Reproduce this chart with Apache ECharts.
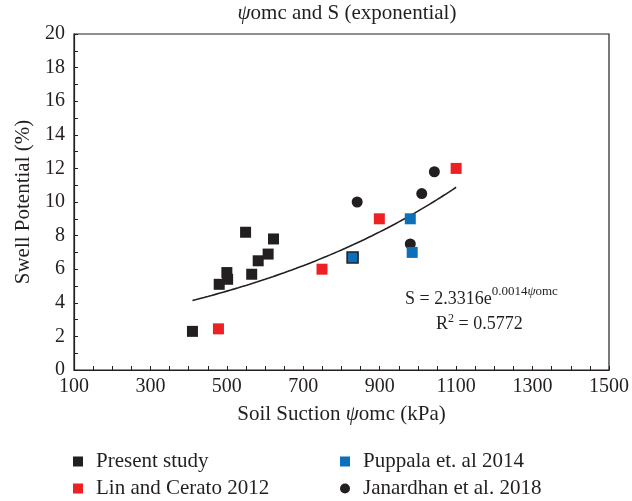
<!DOCTYPE html>
<html>
<head>
<meta charset="utf-8">
<script src="https://cdn.jsdelivr.net/npm/echarts@6/dist/echarts.min.js"></script>
<style>
  html, body { margin: 0; padding: 0; background: #fff; }
  #chart { width: 632px; height: 501px; }
</style>
</head>
<body>
<div id="chart"></div>
<script>
// Soil suction (kPa) vs swell potential (%) for each source
const presentStudy = [[410, 2.3], [480, 5.1], [502, 5.4], [500, 5.8], [549, 8.2], [565, 5.7], [582, 6.5], [608, 6.9], [622, 7.8]];
const linCerato = [[478, 2.45], [749, 6.0], [899, 9.0], [1100, 12.0]];
const puppala = [[829, 6.7], [980, 9.0], [985, 7.0]];
const janardhan = [[841, 10.0], [980, 7.5], [1010, 10.5], [1043, 11.8]];

// Exponential fit S = a * e^(b * psi)
const fitA = 2.3316;
const fitB = 0.0014;
const fitR2 = 0.5772;
const fitRange = [410, 1100];

const xTicks = { min: 100, max: 1500, step: 200 };
const yTicks = { min: 0, max: 20, step: 2 };

const seriesNames = ['Present study', 'Lin and Cerato 2012', 'Puppala et. al 2014', 'Janardhan et al. 2018'];

const INK = '#231f20';
const RED = '#ed2024';
const BLUE = '#0b6fba';
const FONT = '"Liberation Serif", "DejaVu Serif", serif';

const trend = [];
for (let x = fitRange[0]; x <= fitRange[1]; x += 10) {
  trend.push([x, fitA * Math.exp(fitB * x)]);
}

const chart = echarts.init(document.getElementById('chart'), null, { renderer: 'canvas' });

const axisCommon = {
  axisLine: { show: true, onZero: false, lineStyle: { color: INK, width: 1.2 } },
  axisTick: { show: true, inside: true, length: 4, lineStyle: { color: INK, width: 1 } },
  minorTick: { show: true, length: 4, lineStyle: { color: INK, width: 1 } },
  splitLine: { show: false },
  axisLabel: { color: INK, fontFamily: FONT, fontSize: 20, formatter: v => String(v) }
};

const legendText = { fontFamily: FONT, fontSize: 21, color: INK, padding: [0, 0, 0, 8], lineHeight: 21 };

chart.setOption({
  backgroundColor: '#fff',
  animation: false,
  textStyle: { fontFamily: FONT, color: INK },
  title: {
    text: '{i|ψ}omc and S (exponential)',
    left: 342, top: -2, textAlign: 'center',
    textStyle: {
      fontFamily: FONT, fontSize: 21, fontWeight: 'normal', color: INK,
      rich: { i: { fontFamily: FONT, fontSize: 21, fontStyle: 'italic', color: INK } }
    }
  },
  grid: {
    left: 74, right: 20, top: 34, bottom: 131,
    show: true, borderColor: INK, borderWidth: 1.2, backgroundColor: 'transparent'
  },
  legend: [
    {
      data: [seriesNames[0], seriesNames[1]],
      orient: 'vertical', left: 73, top: 451, itemGap: 6, padding: 0,
      itemWidth: 10, itemHeight: 10,
      textStyle: legendText
    },
    {
      data: [seriesNames[2], seriesNames[3]],
      orient: 'vertical', left: 340, top: 451, itemGap: 6, padding: 0,
      itemWidth: 10, itemHeight: 10,
      textStyle: legendText
    }
  ],
  xAxis: Object.assign({}, axisCommon, {
    type: 'value', min: xTicks.min, max: xTicks.max, interval: xTicks.step,
    minorTick: Object.assign({}, axisCommon.minorTick, { splitNumber: 4 }),
    axisLabel: Object.assign({}, axisCommon.axisLabel, { margin: 7 }),
    name: '{t|Soil Suction }{i|ψ}{t|omc (kPa)}',
    nameLocation: 'middle', nameGap: 34,
    nameTextStyle: {
      fontFamily: FONT, fontSize: 21, color: INK,
      rich: {
        t: { fontFamily: FONT, fontSize: 21, color: INK },
        i: { fontFamily: FONT, fontSize: 21, color: INK, fontStyle: 'italic' }
      }
    }
  }),
  yAxis: Object.assign({}, axisCommon, {
    type: 'value', min: yTicks.min, max: yTicks.max, interval: yTicks.step,
    minorTick: Object.assign({}, axisCommon.minorTick, { splitNumber: 2 }),
    axisLabel: Object.assign({}, axisCommon.axisLabel, { margin: 9 }),
    name: 'Swell Potential (%)',
    nameLocation: 'middle', nameGap: 40,
    nameTextStyle: { fontFamily: FONT, fontSize: 21, color: INK }
  }),
  graphic: [
    {
      type: 'text', left: 405, top: 285,
      style: {
        text: '{b|S = 2.3316e}{s|0.0014}{si|ψ}{s|omc}',
        rich: {
          b: { fontFamily: FONT, fontSize: 18, fill: INK, verticalAlign: 'bottom' },
          s: { fontFamily: FONT, fontSize: 13, fill: INK, verticalAlign: 'bottom', padding: [0, 0, 10, 0] },
          si: { fontFamily: FONT, fontSize: 13, fontStyle: 'italic', fill: INK, verticalAlign: 'bottom', padding: [0, 0, 10, 0] }
        }
      }
    },
    {
      type: 'text', left: 436, top: 313,
      style: {
        text: '{b|R}{s|2}{b| = ' + fitR2.toFixed(4) + '}',
        rich: {
          b: { fontFamily: FONT, fontSize: 18, fill: INK, verticalAlign: 'bottom' },
          s: { fontFamily: FONT, fontSize: 12, fill: INK, verticalAlign: 'bottom', padding: [0, 0, 8, 0] }
        }
      }
    }
  ],
  series: [
    {
      name: 'Exponential fit', type: 'line', data: trend, showSymbol: false, smooth: false,
      lineStyle: { color: INK, width: 1.6 }, silent: true, z: 1
    },
    {
      name: seriesNames[0], type: 'scatter', data: presentStudy,
      symbol: 'rect', symbolSize: 11, itemStyle: { color: INK, opacity: 1 }, z: 3
    },
    {
      name: seriesNames[1], type: 'scatter', data: linCerato,
      symbol: 'rect', symbolSize: 11, itemStyle: { color: RED, opacity: 1 }, z: 3
    },
    {
      name: seriesNames[2], type: 'scatter',
      data: puppala.map((p, i) => i === 0
        ? { value: p, itemStyle: { color: BLUE, borderColor: INK, borderWidth: 1.5, opacity: 1 } }
        : p),
      symbol: 'rect', symbolSize: 11, itemStyle: { color: BLUE, opacity: 1 }, z: 3
    },
    {
      name: seriesNames[3], type: 'scatter', data: janardhan,
      symbol: 'circle', symbolSize: 11, itemStyle: { color: INK, opacity: 1 }, z: 2
    }
  ]
});
</script>
</body>
</html>
